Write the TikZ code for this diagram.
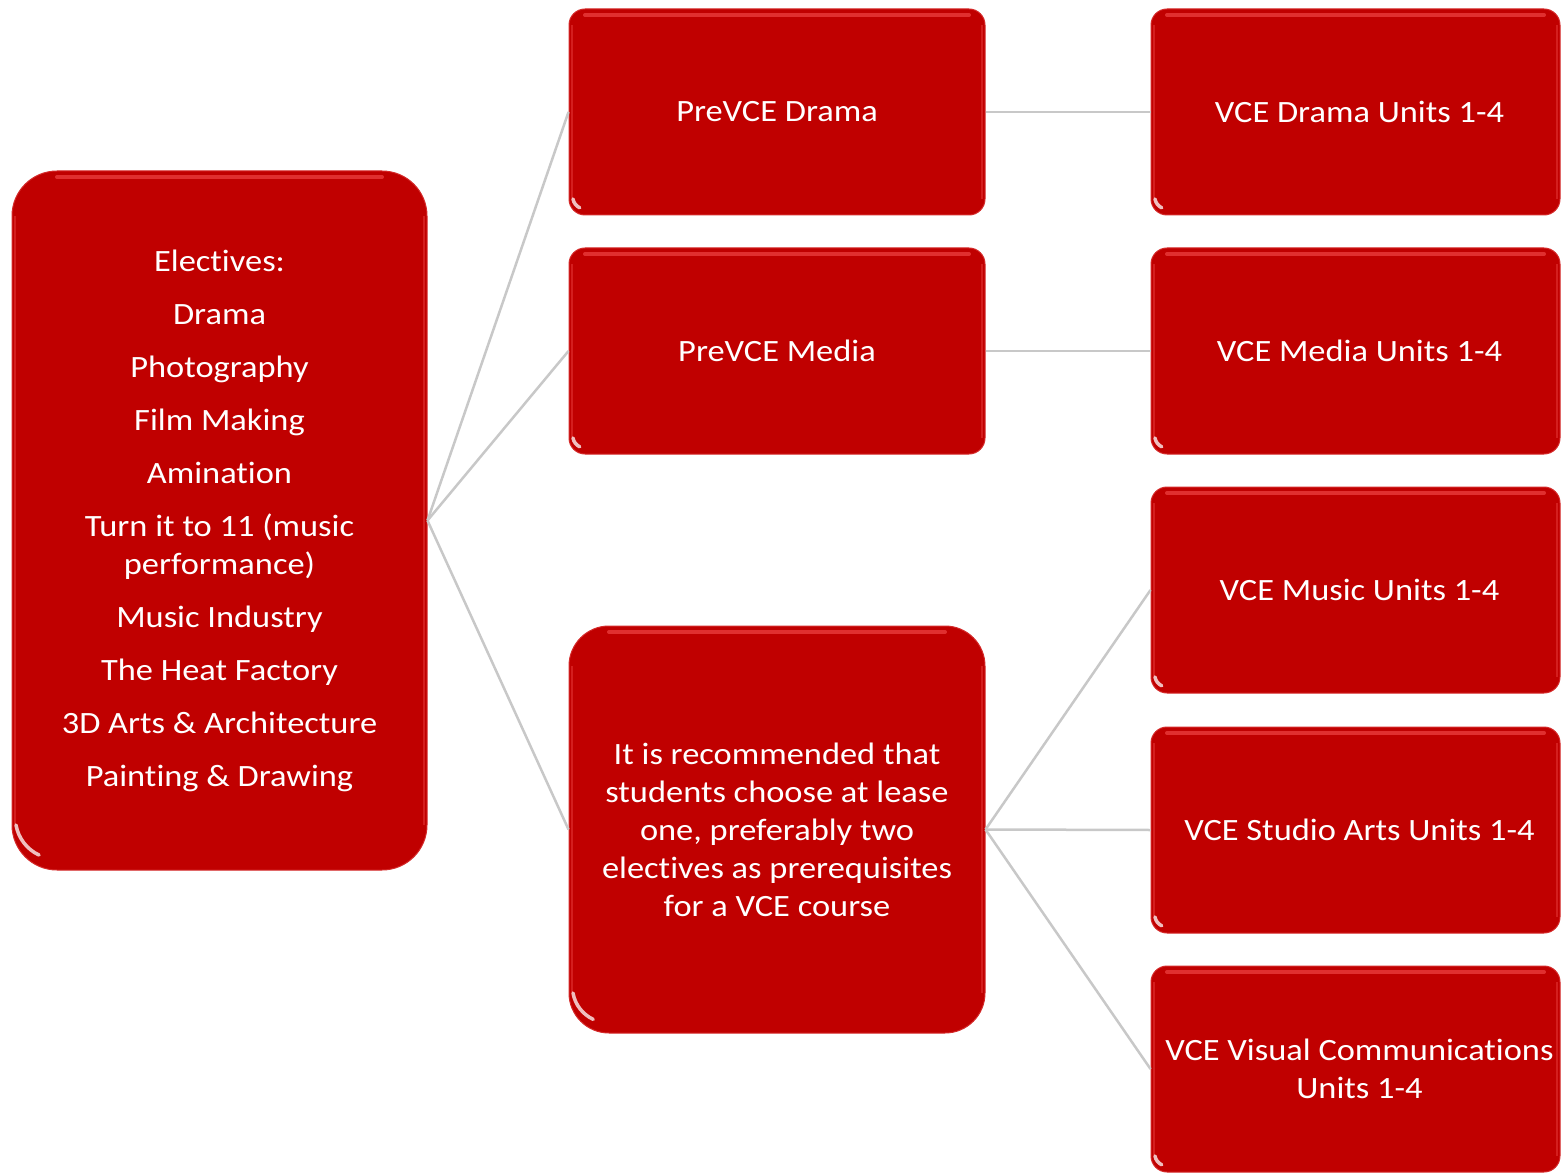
\documentclass[tikz,border=0pt]{standalone}
\usepackage{fontspec}
\setmainfont{Carlito}[FakeStretch=1.11,Ligatures=NoCommon]
\definecolor{boxred}{HTML}{C00000}
\definecolor{boxedge}{HTML}{D42A2A}
\definecolor{hlred}{HTML}{EE4444}
\definecolor{linkgray}{HTML}{C8C8C8}
\tikzset{
  gloss/.style={path picture={
    \draw[hlred,opacity=.7,line width=4pt,line cap=round]
      ([xshift=#1,yshift=-6pt]path picture bounding box.north west) --
      ([xshift=-#1,yshift=-6pt]path picture bounding box.north east);
    \draw[hlred,opacity=.45,line width=2pt]
      ([xshift=3pt,yshift=-#1]path picture bounding box.north west) --
      ([xshift=3pt,yshift=#1]path picture bounding box.south west);
    \draw[hlred,opacity=.45,line width=2pt]
      ([xshift=-3pt,yshift=-#1]path picture bounding box.north east) --
      ([xshift=-3pt,yshift=#1]path picture bounding box.south east);
    \draw[white,opacity=.75,line width=3.5pt,line cap=round]
      ([xshift=4pt,yshift=#1]path picture bounding box.south west)
      arc[start angle=190,end angle=245,radius=#1-4pt];
  }},
  redbox/.style={draw=boxedge,line width=1pt,fill=boxred,text=white,
    align=center,inner sep=0pt,rounded corners=#1,gloss=#1,
    font=\fontsize{31}{38}\selectfont},
  smallbox/.style={redbox=16pt,minimum width=416pt,minimum height=206pt},
  rightbox/.style={redbox=16pt,minimum width=409pt,minimum height=206pt},
  link/.style={draw=linkgray,line width=2.5pt}
}
\begin{document}
\begin{tikzpicture}[x=1pt,y=1pt]
\useasboundingbox (0,0) rectangle (1561,-1174);
\node[redbox=45pt,minimum width=415pt,minimum height=699pt] (left) at (219.5,-520.5)
 {Electives:\\[15pt] Drama\\[15pt] Photography\\[15pt] Film Making\\[15pt] Amination\\[15pt]
  Turn it to 11 (music\\ performance)\\[15pt] Music Industry\\[15pt] The Heat Factory\\[15pt]
  3D Arts \& Architecture\\[15pt] Painting \& Drawing};
\node[smallbox] (pd) at (777,-112) {PreVCE Drama};
\node[smallbox] (pm) at (777,-351) {PreVCE Media};
\node[redbox=40pt,minimum width=416pt,minimum height=407pt] (rec) at (777,-829.5)
 {It is recommended that\\ students choose at lease\\ one, preferably two\\ electives as prerequisites\\ for a VCE course};
\node[rightbox] (vd) at (1355.5,-112) {\hspace*{8pt}VCE Drama Units 1-4};
\node[rightbox] (vm) at (1355.5,-351) {\hspace*{8pt}VCE Media Units 1-4};
\node[rightbox] (vmu) at (1355.5,-590) {\hspace*{8pt}VCE Music Units 1-4};
\node[rightbox] (vs) at (1355.5,-830) {\hspace*{8pt}VCE Studio Arts Units 1-4};
\node[rightbox] (vv) at (1355.5,-1069) {\hspace*{8pt}VCE Visual Communications\\ \hspace*{8pt}Units 1-4};
\path[link] (left.east) -- (pd.west);
\path[link] (left.east) -- (pm.west);
\path[link] (left.east) -- (rec.west);
\path[link] (pd.east) -- (vd.west);
\path[link] (pm.east) -- (vm.west);
\path[link] (rec.east) -- (vmu.west);
\path[link] (rec.east) -- (vs.west);
\path[link] (rec.east) -- (vv.west);
\end{tikzpicture}
\end{document}
